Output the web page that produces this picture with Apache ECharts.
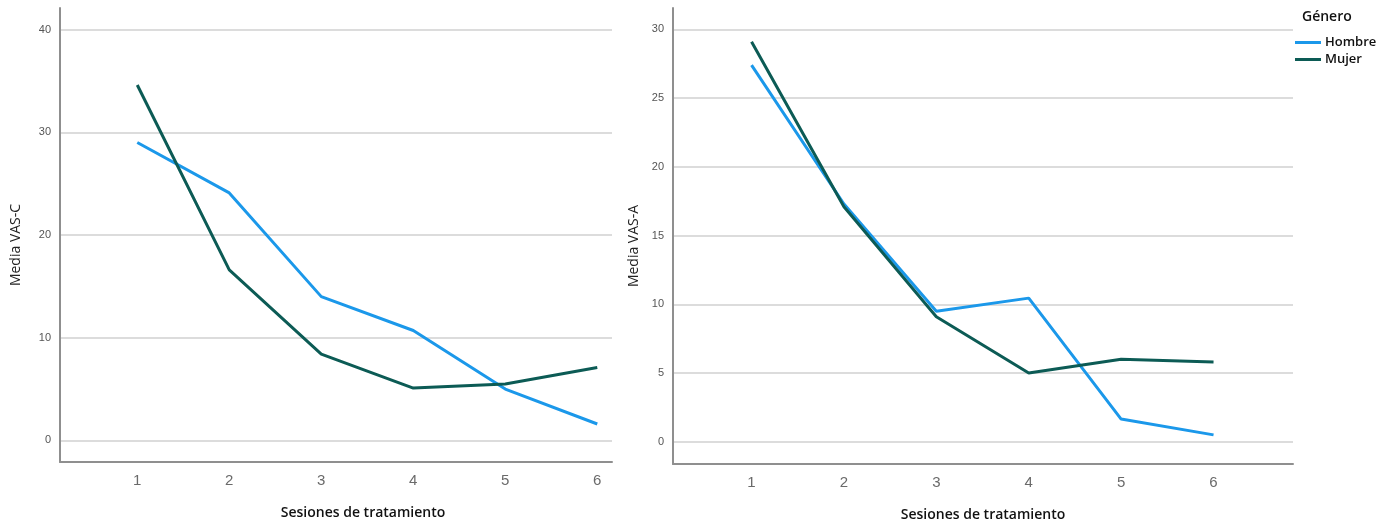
<!DOCTYPE html>
<html>
<head>
<meta charset="utf-8">
<script src="https://cdn.jsdelivr.net/npm/echarts@6/dist/echarts.min.js"></script>
<style>
  html, body { margin: 0; padding: 0; background: #fff; }
  #chart { width: 1392px; height: 523px; }
</style>
</head>
<body>
<div id="chart"></div>
<script>
var sesiones = [1, 2, 3, 4, 5, 6];
var seriesNames = ['Hombre', 'Mujer'];

// Media VAS-C (left panel)
var vasC_hombre = [29.0, 24.1, 14.0, 10.7, 5.0, 1.6];
var vasC_mujer  = [34.6, 16.6, 8.4, 5.1, 5.5, 7.1];

// Media VAS-A (right panel)
var vasA_hombre = [27.4, 17.3, 9.5, 10.45, 1.65, 0.5];
var vasA_mujer  = [29.1, 17.1, 9.1, 5.0, 6.0, 5.8];

var colors = { Hombre: '#1b98ea', Mujer: '#0c5b55' };

var chart = echarts.init(document.getElementById('chart'));

function pairs(values) {
    return sesiones.map(function (s, i) { return [s, values[i]]; });
}

function xAxisFor(idx, min, max, namePad) {
    return {
        gridIndex: idx,
        type: 'value',
        min: min,
        max: max,
        name: 'Sesiones de tratamiento',
        nameLocation: 'middle',
        nameGap: 44,
        nameTextStyle: {
            fontFamily: 'Open Sans', fontSize: 14, fontWeight: 600, color: '#111',
            padding: [0, 0, 0, namePad]
        },
        axisLine: { show: true, onZero: false, lineStyle: { color: '#8f8f8f', width: 2 } },
        axisTick: { show: false },
        splitLine: { show: false },
        axisLabel: {
            showMinLabel: false, showMaxLabel: false,
            margin: 11,
            fontFamily: 'Liberation Sans Narrow, Liberation Sans', fontSize: 15, color: '#6a6a6a',
            formatter: function (v) { return sesiones.indexOf(v) >= 0 ? String(v) : ''; }
        }
    };
}

function yAxisFor(idx, min, max, name, gap) {
    return {
        gridIndex: idx,
        type: 'value',
        min: min,
        max: max,
        name: name,
        nameLocation: 'middle',
        nameGap: gap,
        nameTextStyle: { fontFamily: 'Open Sans', fontSize: 14, color: '#222', padding: [0, 20, 0, 0] },
        axisLine: { show: true, lineStyle: { color: '#8f8f8f', width: 2 } },
        axisTick: { show: false },
        splitLine: {
            show: true, showMinLine: false, showMaxLine: false,
            lineStyle: { color: '#dcdcdc', width: 2 }
        },
        axisLabel: {
            showMinLabel: false, showMaxLabel: false,
            margin: 9,
            fontFamily: 'Liberation Sans', fontSize: 11, color: '#555'
        }
    };
}

function lineSeries(name, idx, values) {
    return {
        name: name,
        type: 'line',
        xAxisIndex: idx,
        yAxisIndex: idx,
        data: pairs(values),
        symbol: 'none',
        lineStyle: { width: 3, color: colors[name] },
        itemStyle: { color: colors[name] }
    };
}

var option = {
    animation: false,
    title: {
        text: 'Género',
        left: 1302,
        top: 10,
        padding: 0,
        textStyle: { fontFamily: 'Open Sans', fontSize: 14, fontWeight: 600, color: '#111' }
    },
    legend: {
        data: seriesNames,
        orient: 'vertical',
        left: 1295,
        top: 36,
        padding: 0,
        itemGap: 4,
        itemWidth: 26,
        itemHeight: 3,
        icon: 'rect',
        textStyle: { fontFamily: 'Open Sans', fontSize: 13, fontWeight: 600, color: '#111', padding: [0, 0, 0, -1] }
    },
    grid: [
        { left: 60, top: 8, width: 552, height: 454, outerBoundsMode: 'none', containLabel: false },
        { left: 673, top: 8, width: 620, height: 456, outerBoundsMode: 'none', containLabel: false }
    ],
    xAxis: [
        xAxisFor(0, 0.16, 6.16, 54),
        xAxisFor(1, 0.15, 6.86, 0)
    ],
    yAxis: [
        yAxisFor(0, -2.1, 42.1, 'Media VAS-C', 37),
        yAxisFor(1, -1.62, 31.56, 'Media VAS-A', 32)
    ],
    series: [
        lineSeries('Hombre', 0, vasC_hombre),
        lineSeries('Mujer', 0, vasC_mujer),
        lineSeries('Hombre', 1, vasA_hombre),
        lineSeries('Mujer', 1, vasA_mujer)
    ]
};

chart.setOption(option);
</script>
</body>
</html>
